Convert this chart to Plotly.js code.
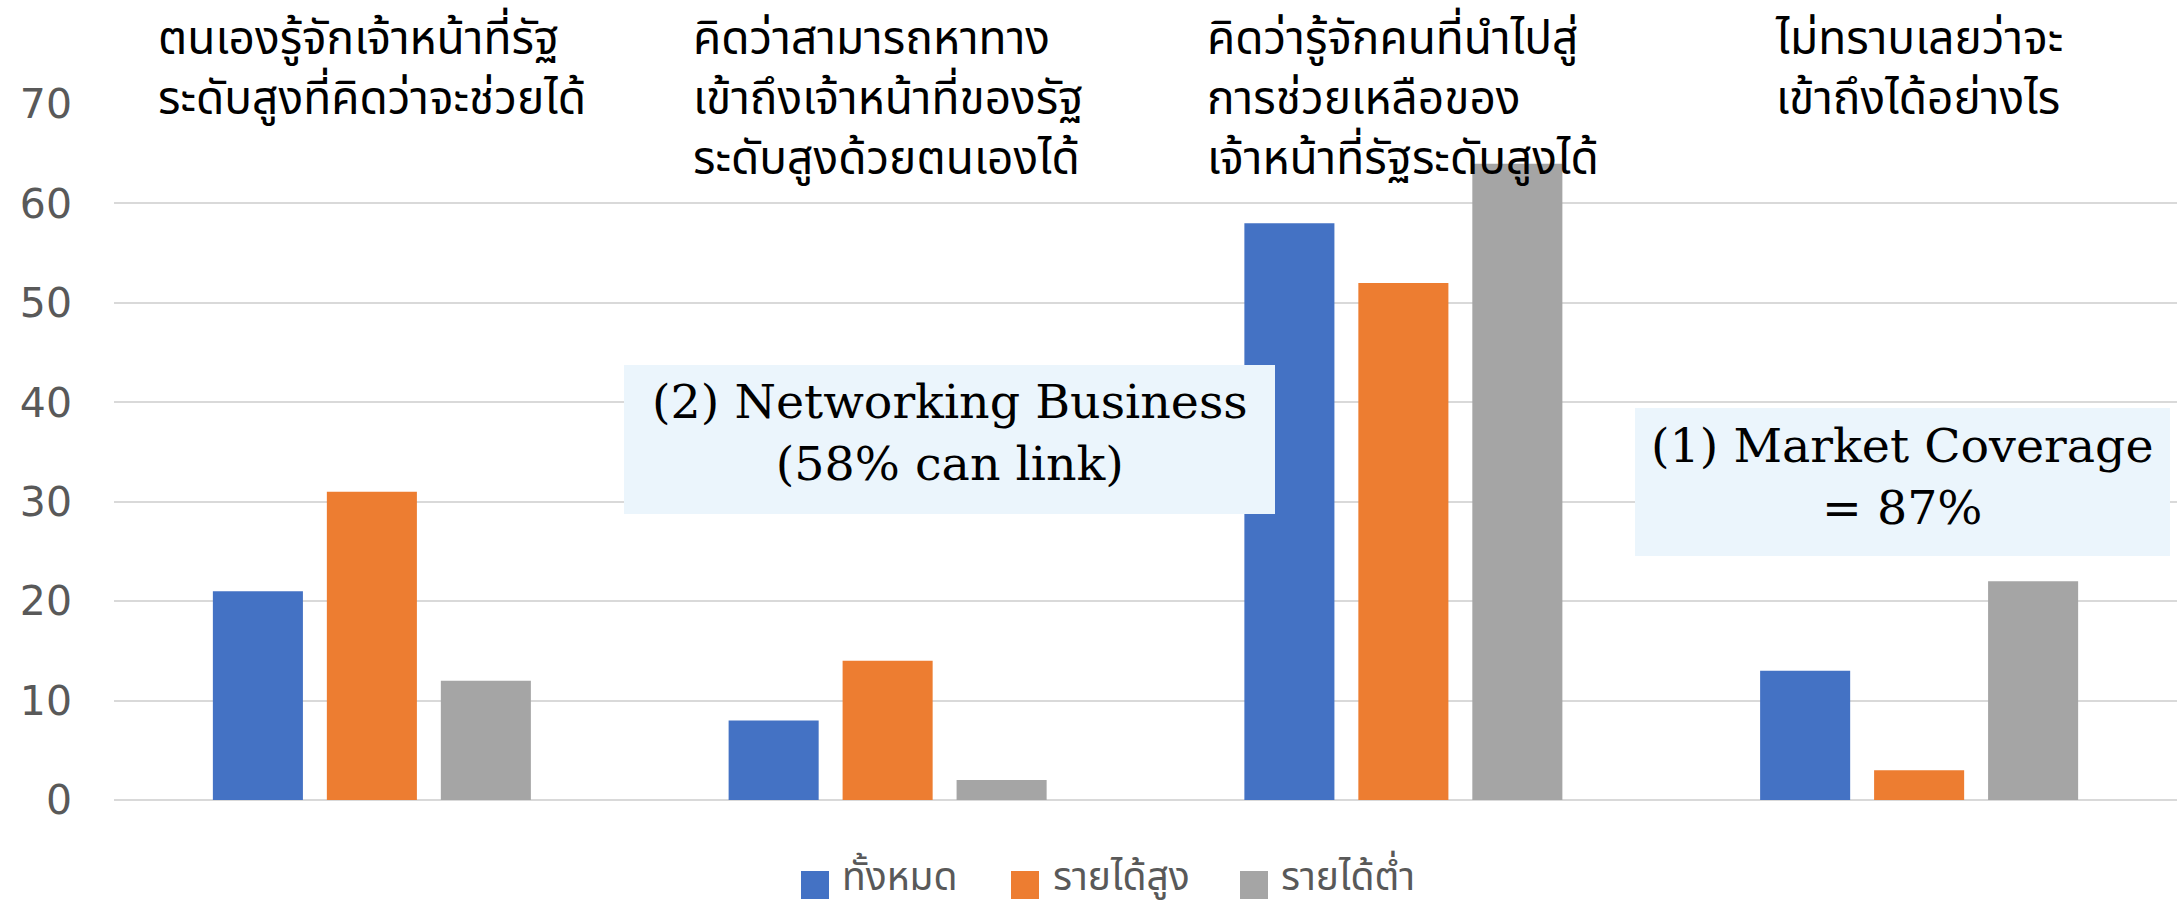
<!DOCTYPE html>
<html>
<head>
<meta charset="utf-8">
<script src="https://cdn.plot.ly/plotly-3.0.1.min.js"></script>
<style>html,body{margin:0;padding:0;background:#fff;}#chart{width:2178px;height:910px;}</style>
</head>
<body>
<div id="chart"></div>
<script>
// ---- data ----
var categories = [
  "ตนเองรู้จักเจ้าหน้าที่รัฐ<br>ระดับสูงที่คิดว่าจะช่วยได้",
  "คิดว่าสามารถหาทาง<br>เข้าถึงเจ้าหน้าที่ของรัฐ<br>ระดับสูงด้วยตนเองได้",
  "คิดว่ารู้จักคนที่นำไปสู่<br>การช่วยเหลือของ<br>เจ้าหน้าที่รัฐระดับสูงได้",
  "ไม่ทราบเลยว่าจะ<br>เข้าถึงได้อย่างไร"
];
var seriesNames = ["ทั้งหมด", "รายได้สูง", "รายได้ต่ำ"];
var totalValues = [21, 8, 58, 13];
var highIncomeValues = [31, 14, 52, 3];
var lowIncomeValues = [12, 2, 64, 22];
var yTickValues = [0, 10, 20, 30, 40, 50, 60, 70];
var noteTexts = ["(2) Networking Business<br>(58% can link)", "(1) Market Coverage<br>= 87%"];

// ---- style ----
var colors = ["#4472C4", "#ED7D31", "#A5A5A5"];
var thaiFont = '"Noto Sans Thai", "Noto Sans Thai UI", Loma, Garuda, "Noto Sans", sans-serif';
var W = 2178, H = 910;
var M = {l: 114, r: 1, t: 104, b: 110};
var PW = W - M.l - M.r, PH = H - M.t - M.b;
function px(x) { return (x - M.l) / PW; }
function py(y) { return (H - M.b - y) / PH; }

var seriesValues = [totalValues, highIncomeValues, lowIncomeValues];
var traces = seriesValues.map(function (vals, i) {
  return {
    type: 'bar', x: categories, y: vals, name: seriesNames[i],
    marker: {color: colors[i]}, showlegend: false, hoverinfo: 'none'
  };
});

var annotations = [];
var shapes = [];
categories.forEach(function (c) {
  annotations.push({
    xref: 'x', yref: 'paper', x: c, y: py(3), xanchor: 'center', yanchor: 'top',
    text: c, showarrow: false, align: 'left',
    font: {family: thaiFont, size: 46, color: '#000000'}
  });
});
// info boxes
var boxes = [
  {x: 624, y: 365, w: 651, h: 149, ty: 432},
  {x: 1635, y: 408, w: 535, h: 148, ty: 476}
];
boxes.forEach(function (b, i) {
  shapes.push({
    type: 'rect', xref: 'paper', yref: 'paper', layer: 'above',
    x0: px(b.x), x1: px(b.x + b.w), y0: py(b.y + b.h), y1: py(b.y),
    fillcolor: '#EBF5FC', line: {width: 0}
  });
  annotations.push({
    xref: 'paper', yref: 'paper', x: px(b.x + b.w / 2), y: py(b.ty), xanchor: 'center', yanchor: 'middle',
    text: noteTexts[i], showarrow: false, align: 'center',
    font: {family: '"DejaVu Serif", serif', size: 47.5, color: '#000000'}
  });
});
// manual legend
var legendSquareX = [801, 1011, 1240];
var legendTextX = [840, 1051, 1279];
seriesNames.forEach(function (n, i) {
  shapes.push({
    type: 'rect', xref: 'paper', yref: 'paper',
    x0: px(legendSquareX[i]), x1: px(legendSquareX[i] + 28), y0: py(899), y1: py(871),
    fillcolor: colors[i], line: {width: 0}
  });
  annotations.push({
    xref: 'paper', yref: 'paper', x: px(legendTextX[i]), y: py(879), xanchor: 'left', yanchor: 'middle',
    text: n, showarrow: false, font: {family: thaiFont, size: 39, color: '#595959'}
  });
});

var layout = {
  width: W, height: H,
  margin: M,
  paper_bgcolor: '#ffffff', plot_bgcolor: '#ffffff',
  barmode: 'group', bargap: 0.337, bargroupgap: 0.21,
  showlegend: false,
  xaxis: {
    type: 'category', range: [-0.5, 3.5], showticklabels: false, showgrid: false,
    zeroline: false, showline: false, ticks: '', fixedrange: true
  },
  yaxis: {
    range: [0, 70], tickvals: yTickValues, ticktext: yTickValues.map(String),
    showgrid: true, gridcolor: '#D9D9D9', gridwidth: 2,
    zeroline: true, zerolinecolor: '#D9D9D9', zerolinewidth: 2,
    showline: false, ticks: '', ticklabelstandoff: 41,
    tickfont: {family: '"DejaVu Sans", sans-serif', size: 41, color: '#595959'},
    fixedrange: true
  },
  annotations: annotations,
  shapes: shapes
};

Plotly.newPlot('chart', traces, layout, {displayModeBar: false, staticPlot: true});
</script>
</body>
</html>
